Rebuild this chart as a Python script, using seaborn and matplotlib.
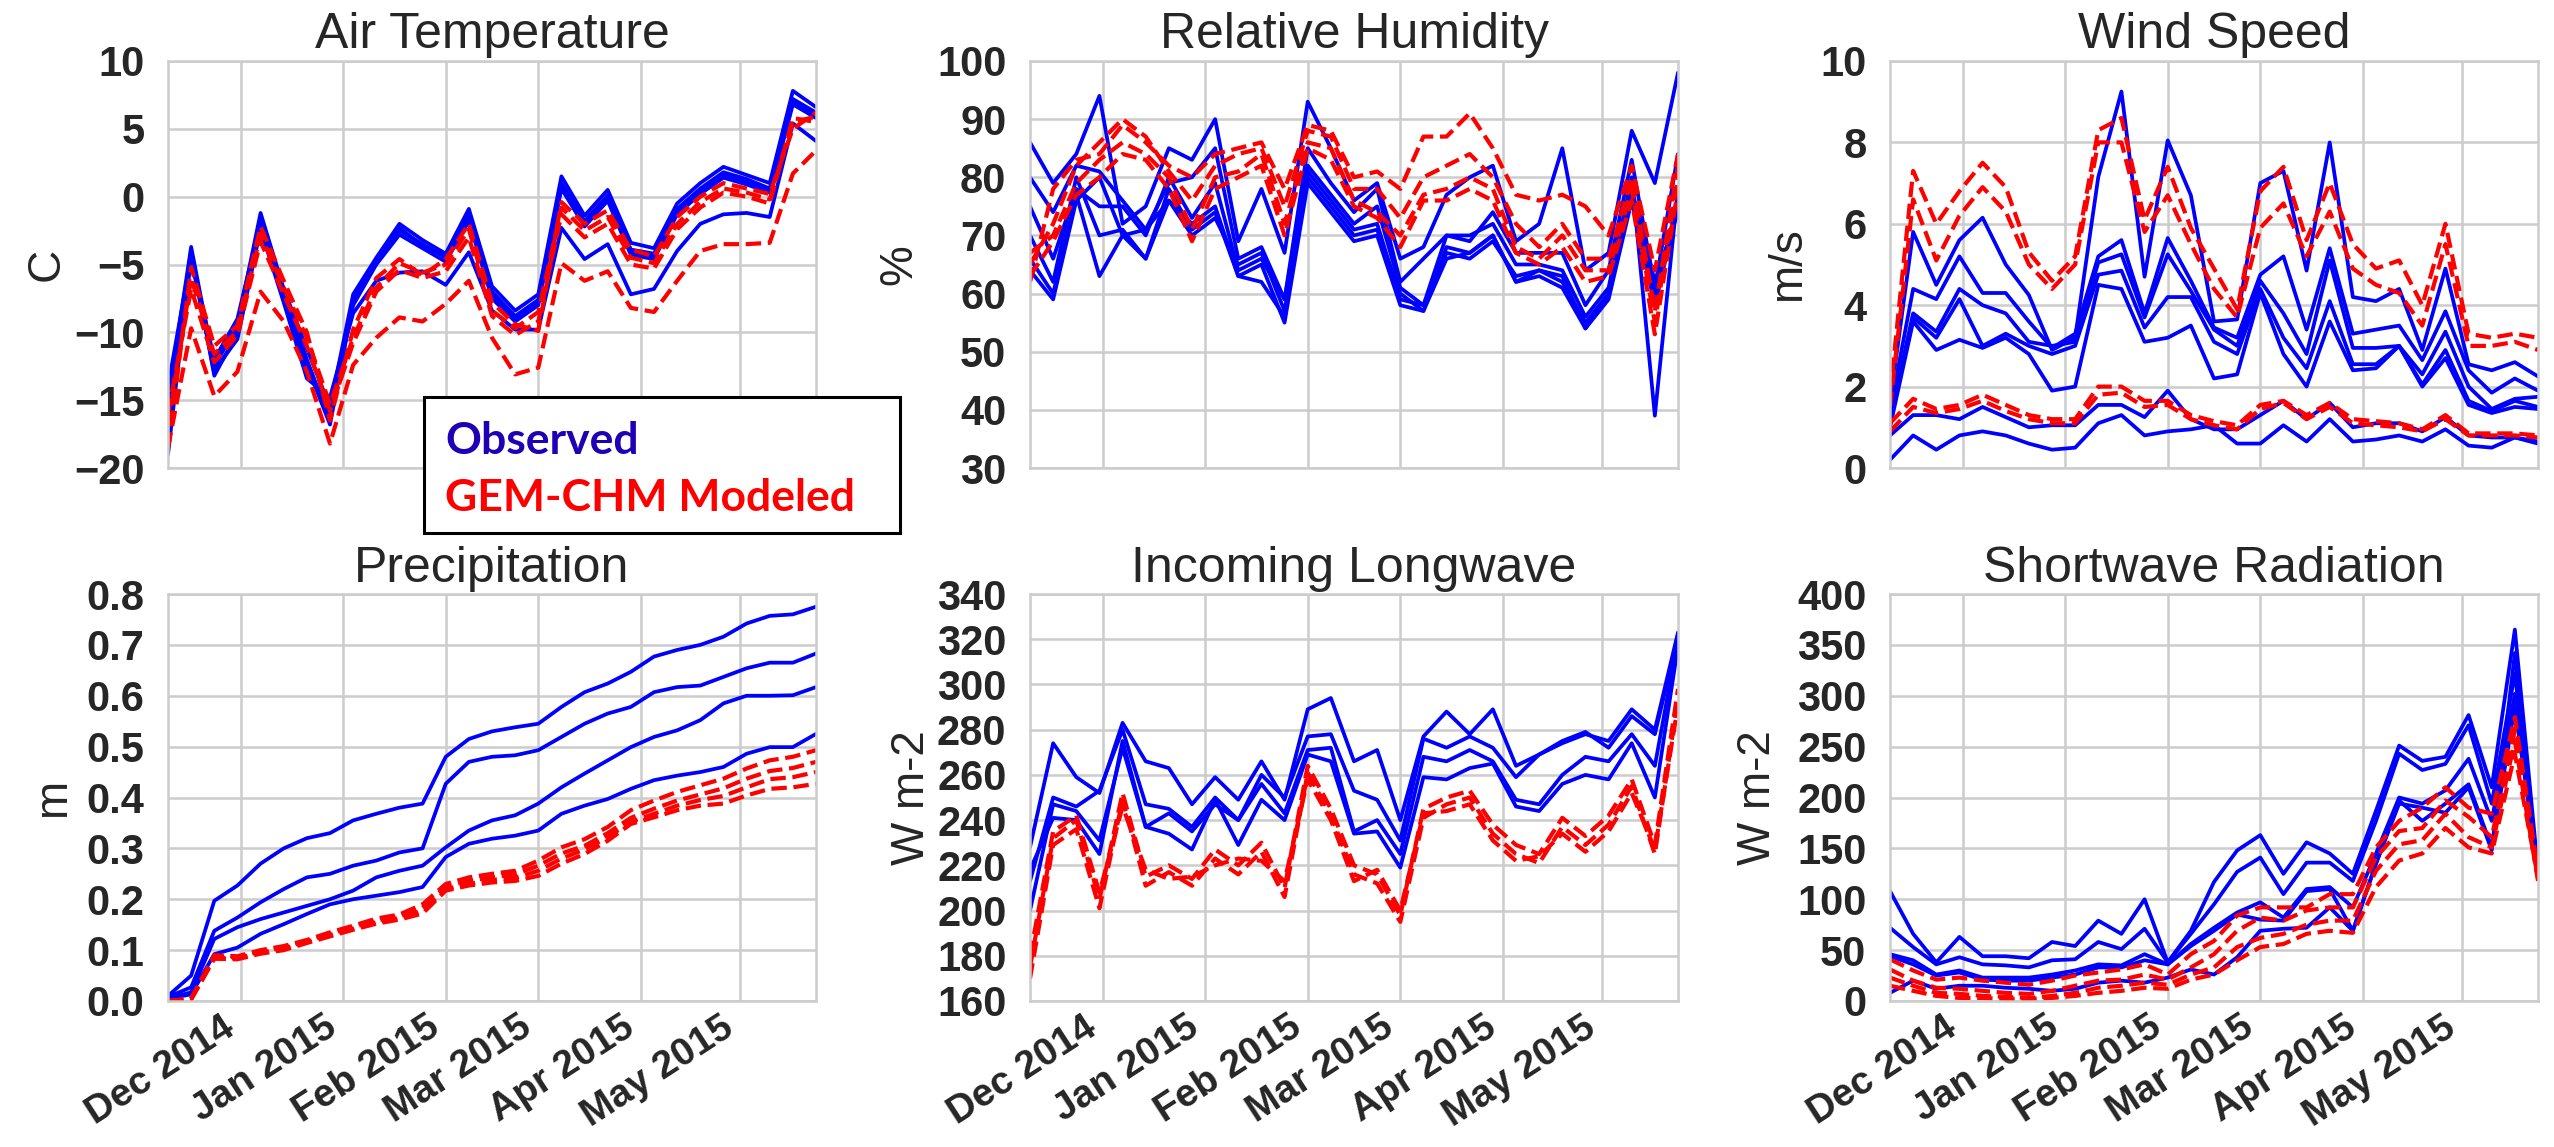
import numpy as np
import pandas as pd
import matplotlib
matplotlib.use("Agg")
import matplotlib.pyplot as plt
import matplotlib.dates as mdates
from matplotlib.patches import Rectangle
import seaborn as sns

# ---------------- data (weekly means) ----------------
start_date = "2014-11-09"
n_weeks = 29

# Air temperature (C)
air_obs_1 = [-15.0, -3.7, -12.5, -9.5, -1.2, -6.8, -11.2, -15.5, -7.2, -4.5, -2.0, -3.2, -4.2, -0.9, -6.6, -8.4, -7.2, 1.5, -1.4, 0.5, -3.4, -3.8, -0.5, 1.0, 2.2, 1.6, 1.0, 7.8, 6.6]
air_obs_2 = [-17.0, -4.0, -13.2, -10.0, -1.5, -7.0, -12.0, -16.5, -7.6, -4.8, -2.5, -3.5, -4.5, -1.3, -7.0, -8.8, -7.6, 1.0, -1.8, 0.1, -3.9, -4.2, -0.9, 0.6, 1.8, 1.3, 0.6, 7.2, 6.2]
air_obs_3 = [-14.0, -4.4, -12.0, -9.0, -1.8, -7.6, -12.8, -16.0, -8.0, -5.0, -2.8, -3.8, -4.8, -1.8, -7.5, -9.2, -8.0, 0.6, -2.2, -0.3, -4.3, -4.6, -1.3, 0.2, 1.4, 0.9, 0.3, 6.8, 5.8]
air_obs_4 = [-19.0, -4.2, -13.0, -10.3, -1.5, -7.3, -12.4, -16.8, -7.8, -4.6, -2.3, -3.6, -4.4, -1.2, -7.2, -9.0, -7.8, 0.8, -2.0, -0.1, -4.1, -4.4, -1.0, 0.4, 1.6, 1.1, 0.4, 7.0, 6.0]
air_obs_5 = [-18.0, -4.6, -12.8, -10.5, -2.4, -7.8, -13.4, -14.8, -8.6, -6.2, -5.6, -5.5, -6.5, -4.1, -8.4, -9.8, -9.8, -2.3, -4.6, -3.5, -7.2, -6.8, -4.0, -2.0, -1.3, -1.2, -1.5, 5.4, 4.1]
air_mod_1 = [-17.0, -6.0, -11.6, -9.9, -2.8, -6.7, -10.4, -15.3, -10.4, -6.7, -4.9, -5.6, -5.0, -2.4, -8.4, -9.7, -8.5, -0.8, -2.5, -1.5, -4.5, -4.9, -2.0, -0.4, 0.6, 0.3, -0.2, 5.5, 5.9]
air_mod_2 = [-18.5, -5.2, -11.0, -9.5, -2.2, -6.2, -10.0, -16.5, -9.8, -6.0, -4.6, -5.8, -4.6, -2.0, -7.8, -9.4, -9.9, -0.4, -2.0, -1.0, -3.9, -4.4, -1.5, 0.0, 1.0, 0.6, 0.2, 5.0, 6.2]
air_mod_3 = [-16.0, -6.8, -12.2, -10.2, -3.3, -7.2, -11.0, -15.8, -10.8, -7.0, -5.4, -6.0, -5.5, -3.0, -8.8, -10.2, -9.2, -1.3, -3.0, -2.0, -5.0, -5.3, -2.4, -0.8, 0.3, 0.0, -0.5, 5.8, 5.5]
air_mod_4 = [-18.5, -9.7, -14.7, -12.9, -7.0, -9.2, -12.9, -18.2, -12.4, -10.4, -8.9, -9.2, -7.9, -6.2, -10.4, -13.1, -12.6, -4.9, -6.2, -5.5, -8.2, -8.5, -6.2, -4.0, -3.5, -3.5, -3.4, 1.7, 3.4]

# Relative humidity (%)
rh_obs_1 = [86, 79, 84, 94, 72, 75, 85, 83, 90, 69, 78, 67, 93, 85, 76, 79, 66, 68, 77, 80, 82, 69, 72, 85, 64, 67, 88, 79, 98]
rh_obs_2 = [80, 74, 82, 81, 76, 71, 79, 80, 85, 66, 68, 59, 85, 79, 74, 78, 62, 66, 70, 69, 74, 67, 67, 67, 58, 64, 83, 61, 84]
rh_obs_3 = [75, 66, 78, 75, 75, 70, 80, 73, 79, 64, 66, 59, 82, 77, 72, 75, 61, 58, 70, 70, 72, 65, 65, 64, 56, 61, 80, 39, 78]
rh_obs_4 = [70, 62, 80, 70, 71, 66, 78, 71, 74, 63, 62, 56, 80, 75, 70, 71, 60, 57, 68, 67, 70, 62, 64, 62, 55, 60, 78, 62, 74]
rh_obs_5 = [66, 60, 77, 63, 70, 66, 76, 70, 73, 65, 67, 57, 81, 76, 71, 72, 59, 58, 67, 66, 69, 63, 64, 63, 54, 60, 77, 60, 76]
rh_obs_6 = [64, 59, 76, 80, 70, 71, 76, 72, 75, 63, 65, 55, 79, 74, 69, 70, 58, 57, 66, 67, 70, 62, 63, 61, 54, 59, 76, 58, 75]
rh_mod_1 = [62, 78, 83, 84, 89, 86, 82, 80, 84, 85, 86, 78, 89, 88, 80, 81, 78, 87, 87, 91, 85, 77, 76, 77, 75, 70, 82, 64, 84]
rh_mod_2 = [65, 72, 82, 86, 90, 87, 81, 76, 82, 84, 85, 75, 88, 87, 78, 78, 73, 80, 82, 84, 80, 72, 68, 72, 66, 66, 80, 57, 82]
rh_mod_3 = [67, 70, 79, 83, 86, 84, 80, 71, 80, 81, 84, 72, 86, 85, 76, 74, 70, 77, 78, 80, 78, 68, 66, 70, 64, 64, 78, 55, 80]
rh_mod_4 = [63, 69, 77, 80, 84, 83, 78, 69, 78, 80, 82, 70, 85, 83, 75, 73, 68, 76, 76, 78, 76, 67, 65, 68, 62, 63, 76, 53, 78]

# Wind speed (m/s)
ws_obs_1 = [1.6, 5.8, 4.5, 5.6, 6.15, 5.0, 4.25, 2.9, 3.2, 7.15, 9.25, 4.7, 8.05, 6.7, 3.6, 3.65, 7.0, 7.3, 4.85, 8.0, 4.2, 4.1, 4.4, 2.9, 4.9, 2.55, 2.4, 2.6, 2.25]
ws_obs_2 = [1.4, 4.4, 4.15, 5.2, 4.3, 4.3, 3.6, 2.95, 3.3, 5.2, 5.6, 3.8, 5.65, 4.6, 3.45, 3.2, 4.75, 5.2, 3.4, 5.4, 3.3, 3.4, 3.5, 2.65, 3.85, 2.4, 1.85, 2.2, 1.9]
ws_obs_3 = [1.2, 3.8, 3.35, 4.4, 4.0, 3.8, 3.1, 3.0, 3.1, 5.05, 5.25, 3.7, 5.25, 4.35, 3.4, 3.0, 4.6, 3.8, 2.8, 5.1, 2.95, 2.95, 3.0, 2.3, 3.35, 2.0, 1.45, 1.7, 1.75]
ws_obs_4 = [1.1, 3.7, 3.2, 4.15, 3.0, 3.3, 3.0, 2.8, 3.0, 4.75, 4.85, 3.45, 4.2, 4.2, 3.1, 2.8, 4.4, 3.2, 2.45, 4.1, 2.55, 2.55, 3.0, 2.05, 2.9, 1.65, 1.4, 1.65, 1.5]
ws_obs_5 = [1.0, 3.6, 2.9, 3.15, 2.95, 3.2, 2.8, 1.9, 2.0, 4.5, 4.4, 3.1, 3.2, 3.5, 2.2, 2.3, 4.3, 2.8, 2.0, 3.6, 2.4, 2.45, 3.0, 2.0, 2.7, 1.55, 1.35, 1.5, 1.45]
ws_obs_6 = [0.8, 1.3, 1.3, 1.2, 1.5, 1.25, 1.0, 1.05, 1.05, 1.55, 1.55, 1.25, 1.9, 1.2, 0.95, 0.95, 1.3, 1.65, 1.2, 1.6, 1.0, 1.1, 1.1, 0.9, 1.25, 0.8, 0.75, 0.75, 0.65]
ws_obs_7 = [0.2, 0.8, 0.45, 0.8, 0.9, 0.8, 0.6, 0.45, 0.5, 1.1, 1.3, 0.8, 0.9, 0.95, 1.05, 0.6, 0.6, 1.05, 0.65, 1.2, 0.65, 0.7, 0.8, 0.65, 0.95, 0.55, 0.5, 0.75, 0.6]
ws_mod_1 = [1.8, 7.3, 6.0, 6.8, 7.5, 6.9, 5.3, 4.6, 5.2, 8.3, 8.6, 6.1, 7.4, 5.9, 4.9, 3.9, 6.8, 7.4, 5.6, 7.0, 5.5, 4.9, 5.1, 4.0, 6.0, 3.3, 3.2, 3.3, 3.2]
ws_mod_2 = [1.5, 6.6, 5.1, 6.2, 6.9, 6.3, 5.0, 4.4, 5.0, 8.0, 8.0, 5.8, 6.7, 5.5, 4.4, 3.7, 5.9, 6.5, 5.2, 6.3, 4.9, 4.5, 4.3, 3.5, 5.5, 3.0, 3.0, 3.1, 2.9]
ws_mod_3 = [1.1, 1.7, 1.45, 1.55, 1.8, 1.55, 1.3, 1.2, 1.2, 2.0, 2.0, 1.65, 1.65, 1.3, 1.15, 1.05, 1.55, 1.65, 1.3, 1.6, 1.2, 1.15, 1.1, 0.95, 1.3, 0.85, 0.85, 0.85, 0.8]
ws_mod_4 = [0.9, 1.5, 1.35, 1.45, 1.65, 1.4, 1.2, 1.1, 1.1, 1.8, 1.85, 1.5, 1.55, 1.2, 1.05, 0.95, 1.45, 1.6, 1.2, 1.5, 1.1, 1.05, 1.0, 0.9, 1.2, 0.8, 0.8, 0.8, 0.75]

# Cumulative precipitation (m)
pr_obs_1 = [0.01, 0.05, 0.197, 0.227, 0.27, 0.30, 0.32, 0.33, 0.355, 0.368, 0.38, 0.388, 0.48, 0.515, 0.53, 0.538, 0.545, 0.578, 0.607, 0.624, 0.647, 0.677, 0.69, 0.70, 0.716, 0.742, 0.757, 0.76, 0.775]
pr_obs_2 = [0.008, 0.027, 0.138, 0.164, 0.194, 0.22, 0.243, 0.25, 0.266, 0.276, 0.292, 0.30, 0.427, 0.47, 0.48, 0.483, 0.493, 0.519, 0.545, 0.565, 0.578, 0.607, 0.617, 0.62, 0.637, 0.654, 0.665, 0.665, 0.683]
pr_obs_3 = [0.005, 0.017, 0.122, 0.145, 0.161, 0.174, 0.187, 0.20, 0.217, 0.243, 0.256, 0.266, 0.302, 0.335, 0.355, 0.365, 0.388, 0.42, 0.447, 0.473, 0.499, 0.519, 0.532, 0.552, 0.585, 0.60, 0.60, 0.601, 0.617]
pr_obs_4 = [0.005, 0.013, 0.092, 0.105, 0.132, 0.151, 0.171, 0.19, 0.20, 0.207, 0.214, 0.224, 0.283, 0.309, 0.319, 0.325, 0.335, 0.368, 0.384, 0.397, 0.417, 0.434, 0.443, 0.45, 0.46, 0.486, 0.499, 0.499, 0.525]
pr_mod_1 = [0.0, 0.005, 0.09, 0.088, 0.1, 0.108, 0.12, 0.135, 0.148, 0.162, 0.17, 0.19, 0.23, 0.243, 0.25, 0.256, 0.276, 0.302, 0.318, 0.342, 0.375, 0.394, 0.411, 0.424, 0.437, 0.457, 0.473, 0.48, 0.493]
pr_mod_2 = [0.0, 0.004, 0.088, 0.086, 0.097, 0.105, 0.118, 0.132, 0.145, 0.158, 0.166, 0.183, 0.225, 0.236, 0.243, 0.249, 0.266, 0.29, 0.305, 0.33, 0.36, 0.378, 0.394, 0.406, 0.418, 0.437, 0.452, 0.458, 0.47]
pr_mod_3 = [0.0, 0.004, 0.085, 0.084, 0.095, 0.103, 0.116, 0.13, 0.142, 0.155, 0.163, 0.178, 0.22, 0.23, 0.238, 0.242, 0.256, 0.28, 0.298, 0.322, 0.352, 0.368, 0.384, 0.395, 0.403, 0.42, 0.436, 0.44, 0.45]
pr_mod_4 = [0.0, 0.003, 0.083, 0.082, 0.093, 0.1, 0.114, 0.127, 0.14, 0.152, 0.16, 0.172, 0.217, 0.227, 0.233, 0.236, 0.246, 0.27, 0.289, 0.315, 0.348, 0.361, 0.375, 0.384, 0.388, 0.404, 0.417, 0.42, 0.427]

# Incoming longwave (W m-2)
lw_obs_1 = [228, 274, 259, 252, 283, 266, 263, 247, 259, 249, 266, 249, 289, 294, 266, 271, 240, 277, 288, 278, 289, 264, 269, 274, 278, 275, 289, 280, 323]
lw_obs_2 = [213, 250, 246, 253, 280, 247, 245, 237, 250, 240, 260, 250, 277, 278, 253, 249, 231, 276, 272, 277, 272, 259, 269, 275, 279, 272, 286, 278, 321]
lw_obs_3 = [200, 247, 244, 231, 272, 237, 243, 235, 247, 240, 256, 243, 271, 272, 235, 240, 225, 268, 266, 271, 266, 249, 247, 260, 268, 266, 278, 264, 320]
lw_obs_4 = [218, 241, 240, 225, 275, 237, 234, 227, 249, 229, 249, 240, 269, 266, 234, 235, 219, 259, 258, 263, 265, 246, 244, 256, 260, 258, 274, 250, 317]
lw_mod_1 = [175, 232, 240, 205, 252, 215, 220, 214, 227, 220, 230, 210, 264, 245, 220, 216, 198, 245, 250, 253, 238, 229, 225, 241, 233, 242, 258, 229, 298]
lw_mod_2 = [170, 229, 236, 201, 249, 211, 217, 211, 223, 216, 226, 206, 261, 242, 216, 212, 195, 241, 247, 250, 234, 225, 221, 237, 229, 238, 255, 225, 294]
lw_mod_3 = [180, 235, 242, 208, 246, 218, 214, 215, 220, 223, 222, 213, 258, 240, 213, 218, 200, 243, 244, 247, 231, 222, 224, 234, 226, 235, 252, 227, 291]

# Shortwave radiation (W m-2)
sw_obs_1 = [108, 66, 38, 63, 44, 44, 42, 58, 54, 79, 66, 100, 38, 69, 117, 148, 163, 125, 156, 145, 125, 187, 251, 236, 240, 281, 210, 365, 128]
sw_obs_2 = [72, 53, 36, 43, 36, 35, 33, 40, 41, 58, 51, 71, 38, 66, 95, 127, 141, 105, 136, 136, 118, 177, 243, 227, 233, 271, 194, 322, 125]
sw_obs_3 = [46, 40, 26, 30, 23, 23, 23, 26, 30, 36, 35, 46, 36, 56, 72, 87, 97, 82, 110, 112, 92, 145, 200, 194, 207, 238, 177, 302, 125]
sw_obs_4 = [44, 36, 25, 28, 21, 20, 20, 23, 26, 33, 33, 40, 36, 54, 69, 85, 80, 79, 108, 110, 69, 135, 197, 177, 194, 213, 151, 289, 128]
sw_obs_5 = [8, 20, 12, 15, 15, 13, 12, 10, 12, 18, 20, 18, 23, 31, 26, 43, 69, 71, 72, 92, 69, 135, 194, 190, 185, 210, 148, 342, 121]
sw_mod_1 = [41, 30, 21, 23, 20, 18, 16, 20, 25, 28, 31, 36, 26, 46, 59, 84, 92, 92, 92, 105, 105, 151, 177, 190, 210, 190, 184, 279, 128]
sw_mod_2 = [31, 20, 13, 12, 10, 8, 7, 10, 15, 20, 21, 26, 21, 33, 46, 69, 82, 79, 89, 92, 92, 141, 167, 170, 197, 181, 161, 266, 121]
sw_mod_3 = [23, 15, 8, 7, 5, 4, 3, 5, 8, 13, 15, 18, 16, 26, 33, 53, 62, 66, 75, 79, 79, 128, 154, 158, 184, 161, 151, 256, 118]
sw_mod_4 = [15, 10, 5, 3, 3, 2, 2, 3, 5, 8, 10, 13, 12, 21, 26, 40, 53, 56, 66, 69, 67, 112, 138, 145, 170, 151, 145, 243, 121]

titles = ["Air Temperature", "Relative Humidity", "Wind Speed",
          "Precipitation", "Incoming Longwave", "Shortwave Radiation"]
ylabels = ["C", "%", "m/s", "m", "W m-2", "W m-2"]
legend_labels = ["Observed", "GEM-CHM Modeled"]

# ---------------- style ----------------
sns.set_style("whitegrid", {"grid.color": ".8", "axes.edgecolor": ".8"})
plt.rcParams["font.family"] = ["Liberation Sans", "DejaVu Sans"]
plt.rcParams["font.weight"] = "bold"
plt.rcParams["axes.unicode_minus"] = True

dates = pd.date_range(start_date, periods=n_weeks, freq="7D")


def long_df(series_list):
    frames = [pd.DataFrame({"date": dates, "value": v, "station": k})
              for k, v in enumerate(series_list)]
    return pd.concat(frames, ignore_index=True)


panels = [
    ([air_obs_1, air_obs_2, air_obs_3, air_obs_4, air_obs_5],
     [air_mod_1, air_mod_2, air_mod_3, air_mod_4], (-20, 10), np.arange(-20, 11, 5)),
    ([rh_obs_1, rh_obs_2, rh_obs_3, rh_obs_4, rh_obs_5, rh_obs_6],
     [rh_mod_1, rh_mod_2, rh_mod_3, rh_mod_4], (30, 100), np.arange(30, 101, 10)),
    ([ws_obs_1, ws_obs_2, ws_obs_3, ws_obs_4, ws_obs_5, ws_obs_6, ws_obs_7],
     [ws_mod_1, ws_mod_2, ws_mod_3, ws_mod_4], (0, 10), np.arange(0, 11, 2)),
    ([pr_obs_1, pr_obs_2, pr_obs_3, pr_obs_4],
     [pr_mod_1, pr_mod_2, pr_mod_3, pr_mod_4], (0, 0.8), np.round(np.arange(0, 0.81, 0.1), 1)),
    ([lw_obs_1, lw_obs_2, lw_obs_3, lw_obs_4],
     [lw_mod_1, lw_mod_2, lw_mod_3], (160, 340), np.arange(160, 341, 20)),
    ([sw_obs_1, sw_obs_2, sw_obs_3, sw_obs_4, sw_obs_5],
     [sw_mod_1, sw_mod_2, sw_mod_3, sw_mod_4], (0, 400), np.arange(0, 401, 50)),
]

# layout in pixels of the 2554x1147 canvas
W, H = 2554, 1147
col_left = [168, 1030, 1890]
row_top = [61, 594]
ax_w, ax_h = 648, 407
ylabel_x = [-0.153, -0.167, -0.123, -0.143, -0.148, -0.170]

fig = plt.figure(figsize=(W / 100, H / 100), dpi=100)
axes = []
for idx, (obs, mod, ylim, yticks) in enumerate(panels):
    r, c = divmod(idx, 3)
    ax = fig.add_axes([col_left[c] / W, 1 - (row_top[r] + ax_h) / H, ax_w / W, ax_h / H])
    sns.lineplot(data=long_df(obs), x="date", y="value", units="station", estimator=None,
                 color="#0000FF", lw=2.7, legend=False, ax=ax)
    sns.lineplot(data=long_df(mod), x="date", y="value", units="station", estimator=None,
                 color="#FF0000", lw=3.0, linestyle="--", legend=False, ax=ax)
    ax.set_xlim(dates[0], dates[-1])
    ax.set_ylim(*ylim)
    ax.set_yticks(yticks)
    ax.xaxis.set_major_locator(mdates.MonthLocator())
    ax.xaxis.set_major_formatter(mdates.DateFormatter("%b %Y"))
    ax.grid(True, color="#cccccc", lw=1.8)
    for s in ax.spines.values():
        s.set_color("#cccccc")
        s.set_linewidth(1.8)
    ax.tick_params(axis="y", labelsize=30, pad=17, colors="#262626", length=0)
    ax.tick_params(axis="x", labelsize=28, pad=6, colors="#262626", length=0)
    ax.set_xlabel("")
    ax.set_title(titles[idx], fontsize=36, color="#262626", fontweight="normal", pad=9)
    ax.set_ylabel(ylabels[idx], fontsize=33, color="#262626", fontweight="normal")
    ax.yaxis.set_label_coords(ylabel_x[idx], 0.5)
    if r == 0:
        ax.tick_params(axis="x", labelbottom=False)
    axes.append(ax)

for ax in axes[3:]:
    for lab in ax.get_xticklabels():
        lab.set_rotation(33)
        lab.set_ha("right")

# legend box drawn as a separate annotation
box = Rectangle((424 / W, 1 - 533 / H), 476 / W, 136 / H, transform=fig.transFigure,
                facecolor="white", edgecolor="black", lw=2.2, zorder=10)
fig.add_artist(box)
fig.text(445 / W, 1 - 454 / H, legend_labels[0], color="#2000B4", fontsize=32,
         fontweight="bold", family=["Lato", "DejaVu Sans"], zorder=11, va="baseline")
fig.text(445 / W, 1 - 511 / H, legend_labels[1], color="#FF0000", fontsize=32,
         fontweight="bold", family=["Lato", "DejaVu Sans"], zorder=11, va="baseline")

fig.savefig("out.png", dpi=100)
